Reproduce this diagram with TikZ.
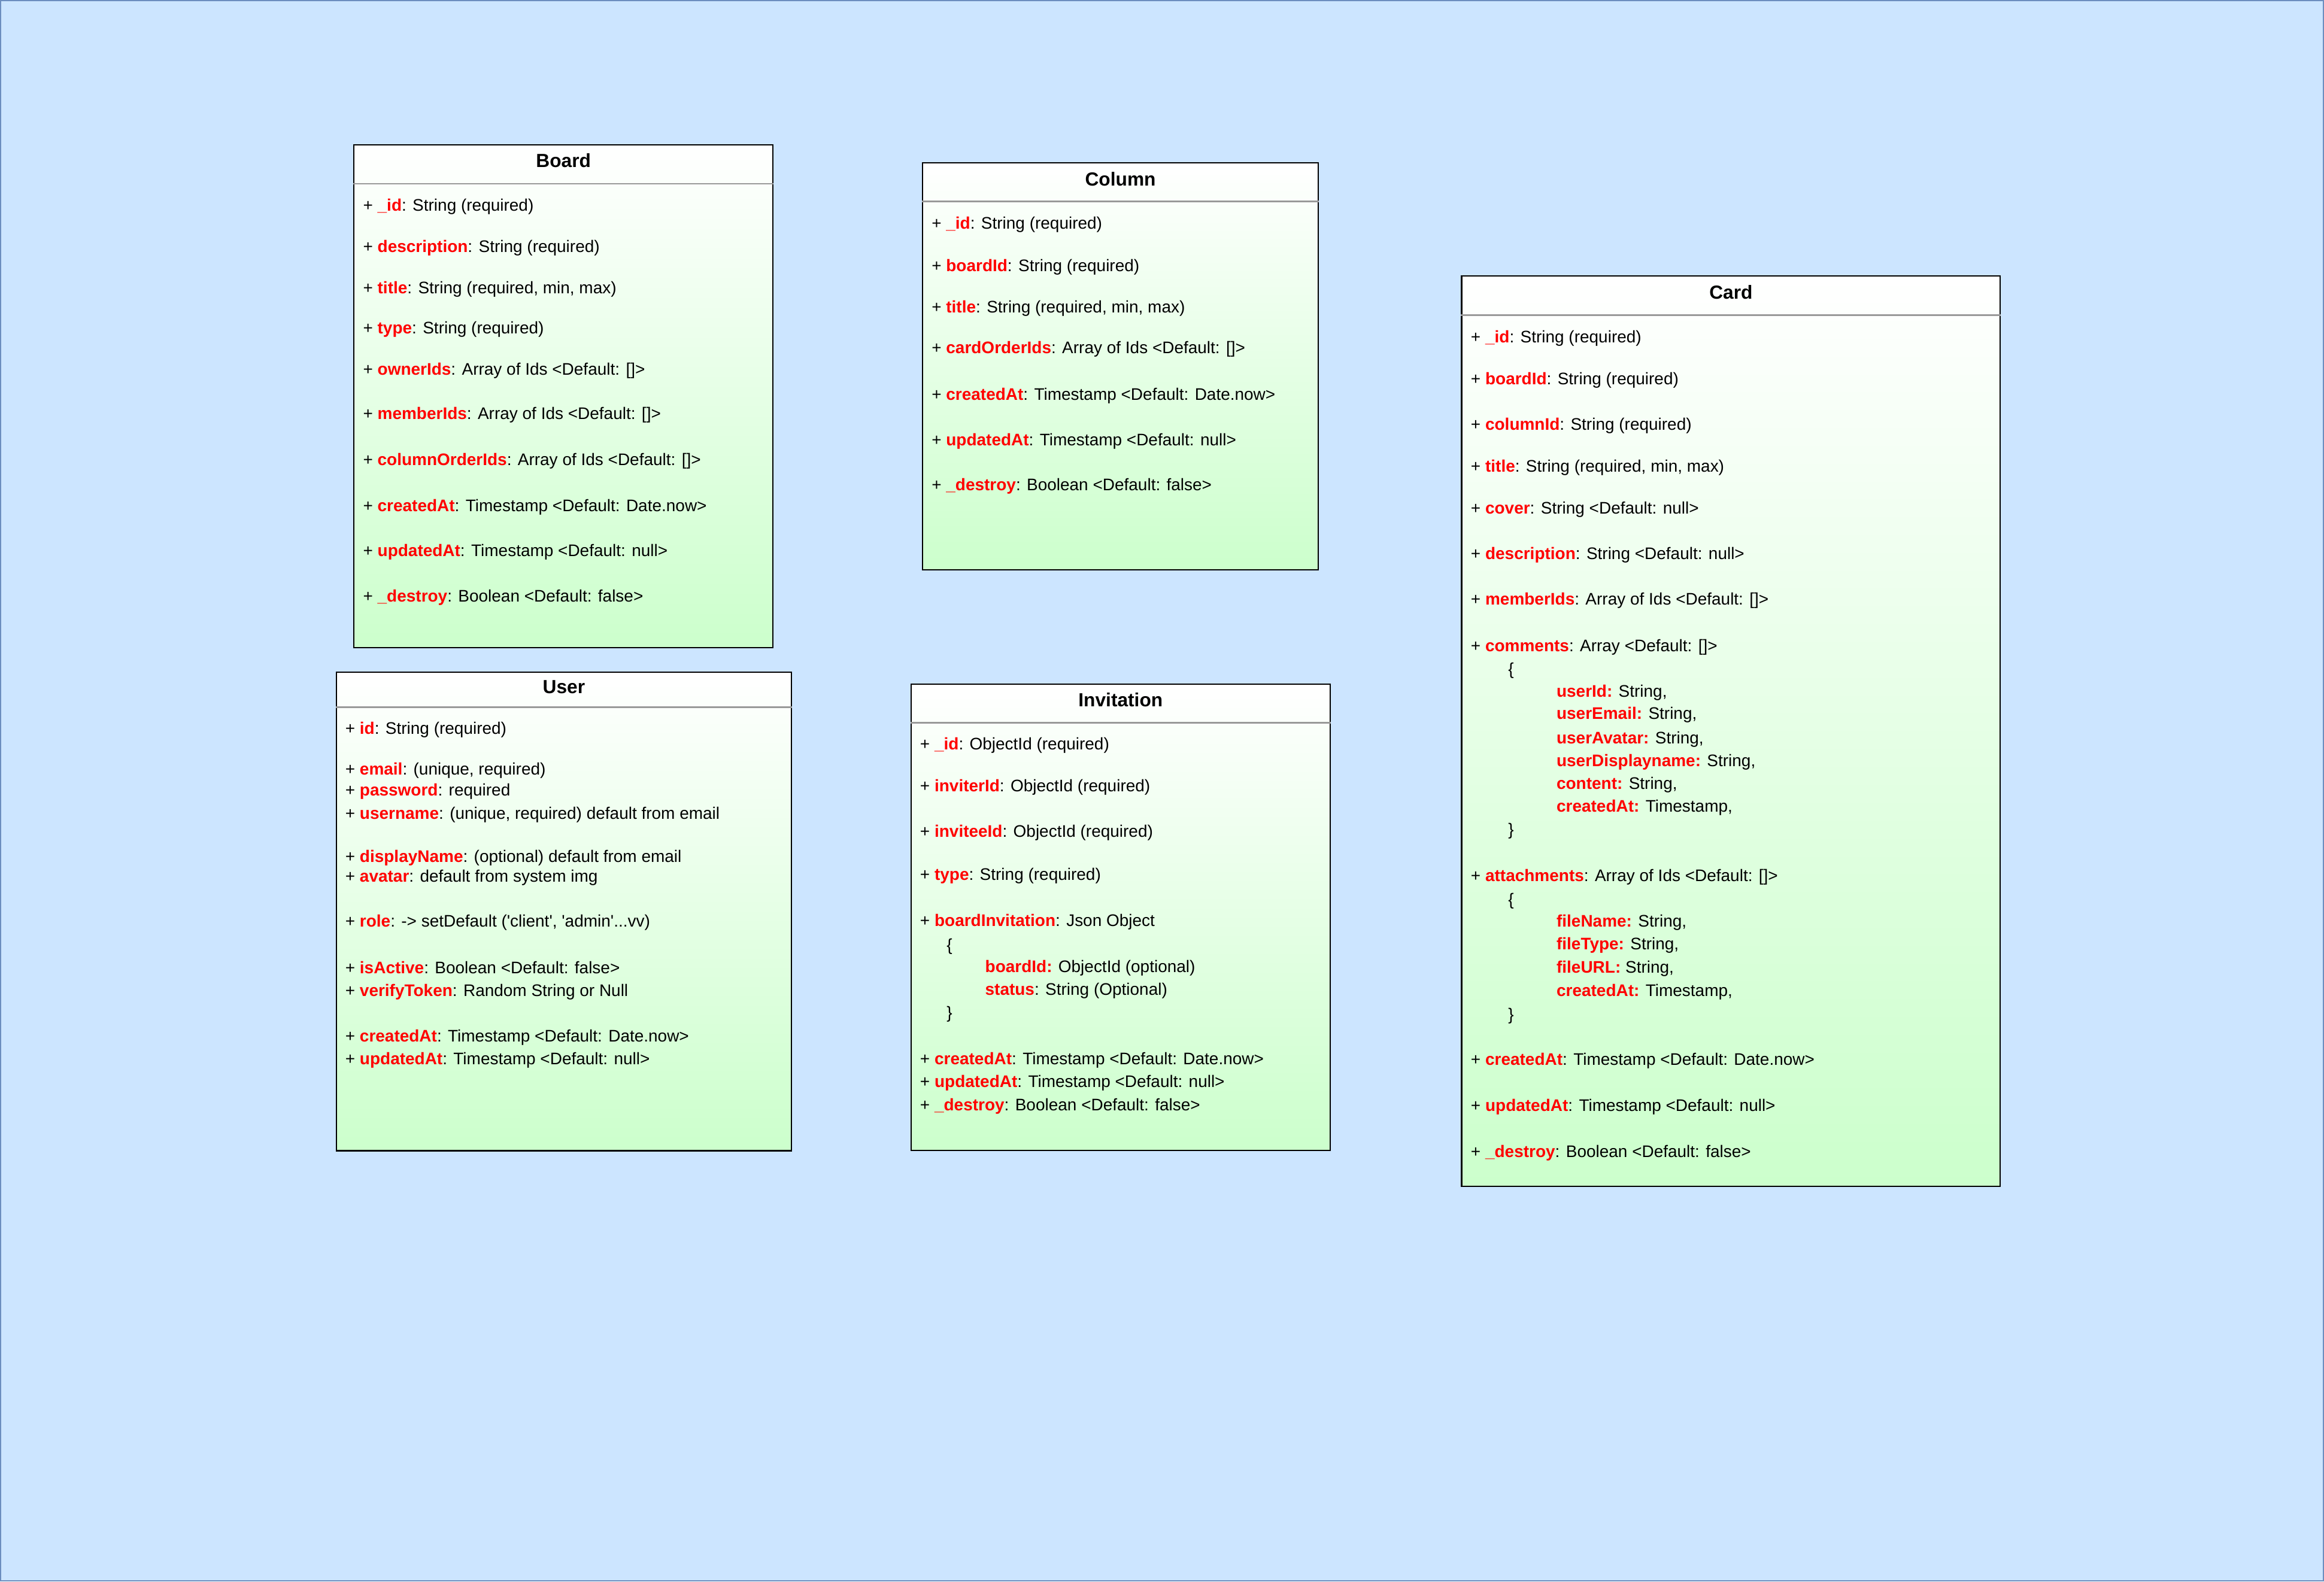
\documentclass[tikz,border=0pt]{standalone}
\usepackage{fontspec}
\setmainfont{Liberation Sans}
\usetikzlibrary{positioning}
\definecolor{canvasblue}{HTML}{CCE5FF}
\definecolor{canvasline}{HTML}{6C8EBF}
\definecolor{boxgreen}{HTML}{CCFFCC}
\definecolor{keyred}{HTML}{FF0000}
\newcommand{\fld}[2]{+ \textcolor{keyred}{\textbf{#1}}: #2}
\newcommand{\subfld}[2]{\textcolor{keyred}{\textbf{#1:}} #2}
\tikzset{
  classbox/.style={draw=black, line width=0.9pt, top color=white, bottom color=boxgreen, anchor=north west, inner sep=0pt},
  classhead/.style={font=\fontsize{12.8}{14}\selectfont\bfseries, inner sep=0pt},
  fieldtxt/.style={font=\fontsize{11.3}{13}\selectfont, anchor=west, inner sep=0pt, text height=8pt, text depth=0pt},
  sepline/.style={draw=black!40, line width=1pt}
}

\begin{document}
\begin{tikzpicture}[x=1pt, y=-1pt]
  % Canvas
  \useasboundingbox (0,0) rectangle (1568,1067.2);
  \draw[draw=canvasline, fill=canvasblue, line width=0.9pt] (0.45,0.45) rectangle (1567.5,1066.7);

  % Board
  \node[classbox, minimum width=282.8pt, minimum height=339.4pt] (board) at (238.3,97.3) {};
  \draw[sepline] ([yshift=-26.8pt]board.north west) -- ([yshift=-26.8pt]board.north east);
  \node[classhead] (boardT) at ([yshift=-11pt]board.north) {Board};
  \node[fieldtxt] (board1) at (244.8,138.3) {\fld{\_id}{String (required)}};
  \node[fieldtxt] (board2) at (244.8,166.2) {\fld{description}{String (required)}};
  \node[fieldtxt] (board3) at (244.8,194.3) {\fld{title}{String (required, min, max)}};
  \node[fieldtxt] (board4) at (244.8,221.3) {\fld{type}{String (required)}};
  \node[fieldtxt] (board5) at (244.8,249.0) {\fld{ownerIds}{Array of Ids <Default: []>}};
  \node[fieldtxt] (board6) at (244.8,279.0) {\fld{memberIds}{Array of Ids <Default: []>}};
  \node[fieldtxt] (board7) at (244.8,310.0) {\fld{columnOrderIds}{Array of Ids <Default: []>}};
  \node[fieldtxt] (board8) at (244.8,341.0) {\fld{createdAt}{Timestamp <Default: Date.now>}};
  \node[fieldtxt] (board9) at (244.8,371.5) {\fld{updatedAt}{Timestamp <Default: null>}};
  \node[fieldtxt] (board10) at (244.8,402.3) {\fld{\_destroy}{Boolean <Default: false>}};

  % Column
  \node[classbox, minimum width=266.8pt, minimum height=274.6pt] (column) at (622.1,109.5) {};
  \draw[sepline] ([yshift=-26.5pt]column.north west) -- ([yshift=-26.5pt]column.north east);
  \node[classhead] (columnT) at ([yshift=-11.4pt]column.north) {Column};
  \node[fieldtxt] (column1) at (628.4,150.6) {\fld{\_id}{String (required)}};
  \node[fieldtxt] (column2) at (628.4,179.0) {\fld{boardId}{String (required)}};
  \node[fieldtxt] (column3) at (628.4,207.0) {\fld{title}{String (required, min, max)}};
  \node[fieldtxt] (column4) at (628.4,234.7) {\fld{cardOrderIds}{Array of Ids <Default: []>}};
  \node[fieldtxt] (column5) at (628.4,266.0) {\fld{createdAt}{Timestamp <Default: Date.now>}};
  \node[fieldtxt] (column6) at (628.4,296.7) {\fld{updatedAt}{Timestamp <Default: null>}};
  \node[fieldtxt] (column7) at (628.4,327.2) {\fld{\_destroy}{Boolean <Default: false>}};

  % Card
  \node[classbox, minimum width=363.4pt, minimum height=614.1pt] (card) at (985.7,185.9) {};
  \draw[sepline] ([yshift=-26.7pt]card.north west) -- ([yshift=-26.7pt]card.north east);
  \node[classhead] (cardT) at ([yshift=-11.3pt]card.north) {Card};
  \node[fieldtxt] (card1) at (992.2,227.3) {\fld{\_id}{String (required)}};
  \node[fieldtxt] (card2) at (992.2,255.7) {\fld{boardId}{String (required)}};
  \node[fieldtxt] (card3) at (992.2,286.3) {\fld{columnId}{String (required)}};
  \node[fieldtxt] (card4) at (992.2,314.6) {\fld{title}{String (required, min, max)}};
  \node[fieldtxt] (card5) at (992.2,342.7) {\fld{cover}{String <Default: null>}};
  \node[fieldtxt] (card6) at (992.2,373.6) {\fld{description}{String <Default: null>}};
  \node[fieldtxt] (card7) at (992.2,404.3) {\fld{memberIds}{Array of Ids <Default: []>}};
  \node[fieldtxt] (card8) at (992.2,435.8) {\fld{comments}{Array <Default: []>}};
  \node[fieldtxt] (card8a) at (1017.4,451.6) {\{};
  \node[fieldtxt] (card8b) at (1050,466.4) {\subfld{userId}{String,}};
  \node[fieldtxt] (card8c) at (1050,481.5) {\subfld{userEmail}{String,}};
  \node[fieldtxt] (card8d) at (1050,497.8) {\subfld{userAvatar}{String,}};
  \node[fieldtxt] (card8e) at (1050,513.2) {\subfld{userDisplayname}{String,}};
  \node[fieldtxt] (card8f) at (1050,528.7) {\subfld{content}{String,}};
  \node[fieldtxt] (card8g) at (1050,543.9) {\subfld{createdAt}{Timestamp,}};
  \node[fieldtxt] (card8h) at (1017.4,559.6) {\}};
  \node[fieldtxt] (card9) at (992.2,590.9) {\fld{attachments}{Array of Ids <Default: []>}};
  \node[fieldtxt] (card9a) at (1017.4,606.9) {\{};
  \node[fieldtxt] (card9b) at (1050,621.5) {\subfld{fileName}{String,}};
  \node[fieldtxt] (card9c) at (1050,637.0) {\subfld{fileType}{String,}};
  \node[fieldtxt] (card9d) at (1050,652.5) {\subfld{fileURL}{String,}};
  \node[fieldtxt] (card9e) at (1050,668.2) {\subfld{createdAt}{Timestamp,}};
  \node[fieldtxt] (card9f) at (1017.4,684.5) {\}};
  \node[fieldtxt] (card10) at (992.2,714.7) {\fld{createdAt}{Timestamp <Default: Date.now>}};
  \node[fieldtxt] (card11) at (992.2,746.0) {\fld{updatedAt}{Timestamp <Default: null>}};
  \node[fieldtxt] (card12) at (992.2,776.9) {\fld{\_destroy}{Boolean <Default: false>}};

  % User
  \node[classbox, minimum width=306.8pt, minimum height=323.1pt] (user) at (226.6,453) {};
  \draw[sepline] ([yshift=-24.3pt]user.north west) -- ([yshift=-24.3pt]user.north east);
  \node[classhead] (userT) at ([yshift=-10.5pt]user.north) {User};
  \node[fieldtxt] (user1) at (232.8,491.6) {\fld{id}{String (required)}};
  \node[fieldtxt] (user2) at (232.8,519.0) {\fld{email}{(unique, required)}};
  \node[fieldtxt] (user3) at (232.8,532.8) {\fld{password}{required}};
  \node[fieldtxt] (user4) at (232.8,548.9) {\fld{username}{(unique, required) default from email}};
  \node[fieldtxt] (user5) at (232.8,577.8) {\fld{displayName}{(optional) default from email}};
  \node[fieldtxt] (user6) at (232.8,591.1) {\fld{avatar}{default from system img}};
  \node[fieldtxt] (user7) at (232.8,621.5) {\fld{role}{-> setDefault (\textquotesingle client\textquotesingle, \textquotesingle admin\textquotesingle...vv)}};
  \node[fieldtxt] (user8) at (232.8,653.0) {\fld{isActive}{Boolean <Default: false>}};
  \node[fieldtxt] (user9) at (232.8,668.4) {\fld{verifyToken}{Random String or Null}};
  \node[fieldtxt] (user10) at (232.8,699.2) {\fld{createdAt}{Timestamp <Default: Date.now>}};
  \node[fieldtxt] (user11) at (232.8,714.5) {\fld{updatedAt}{Timestamp <Default: null>}};

  % Invitation
  \node[classbox, minimum width=282.6pt, minimum height=314.5pt] (invite) at (614.3,461.3) {};
  \draw[sepline] ([yshift=-26.4pt]invite.north west) -- ([yshift=-26.4pt]invite.north east);
  \node[classhead] (inviteT) at ([yshift=-10.9pt]invite.north) {Invitation};
  \node[fieldtxt] (invite1) at (620.6,502.0) {\fld{\_id}{ObjectId (required)}};
  \node[fieldtxt] (invite2) at (620.6,530.2) {\fld{inviterId}{ObjectId (required)}};
  \node[fieldtxt] (invite3) at (620.6,560.9) {\fld{inviteeId}{ObjectId (required)}};
  \node[fieldtxt] (invite4) at (620.6,589.9) {\fld{type}{String (required)}};
  \node[fieldtxt] (invite5) at (620.6,621.2) {\fld{boardInvitation}{Json Object}};
  \node[fieldtxt] (invite5a) at (638.5,637.7) {\{};
  \node[fieldtxt] (invite5b) at (664.5,652.1) {\subfld{boardId}{ObjectId (optional)}};
  \node[fieldtxt] (invite5c) at (664.5,667.6) {\textcolor{keyred}{\textbf{status}}: String (Optional)};
  \node[fieldtxt] (invite5d) at (638.5,683.4) {\}};
  \node[fieldtxt] (invite6) at (620.6,714.4) {\fld{createdAt}{Timestamp <Default: Date.now>}};
  \node[fieldtxt] (invite7) at (620.6,729.8) {\fld{updatedAt}{Timestamp <Default: null>}};
  \node[fieldtxt] (invite8) at (620.6,745.3) {\fld{\_destroy}{Boolean <Default: false>}};
\end{tikzpicture}
\end{document}
